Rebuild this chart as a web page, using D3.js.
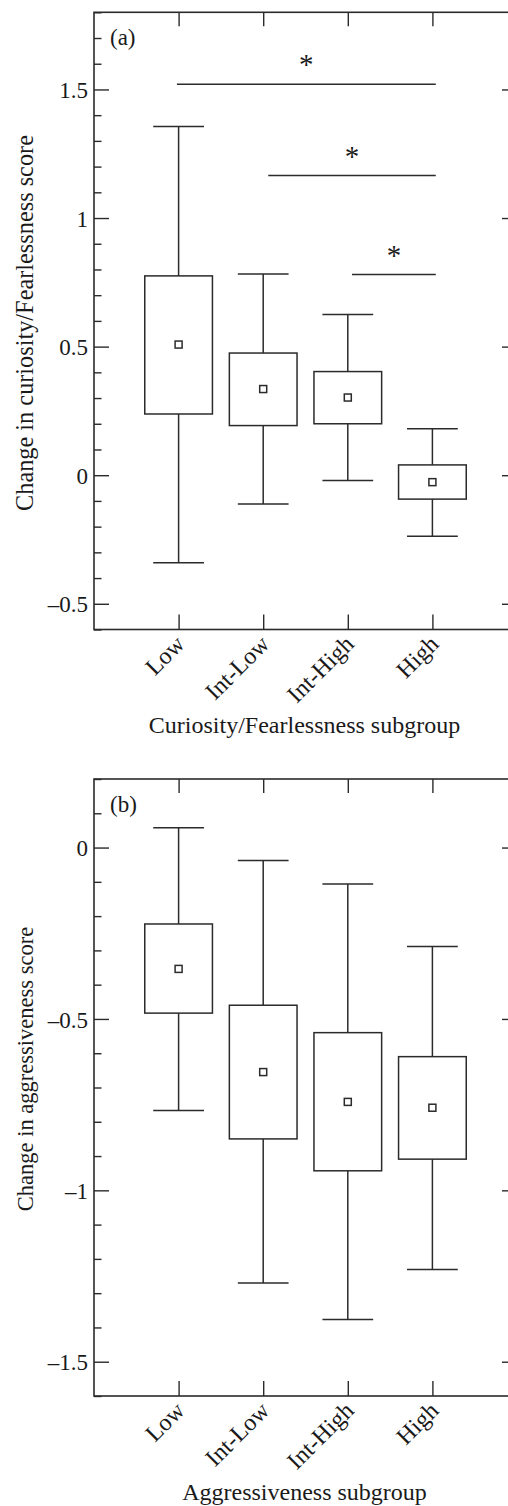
<!DOCTYPE html>
<html>
<head>
<meta charset="utf-8">
<script src="https://cdn.jsdelivr.net/npm/d3@7"></script>
<style>
  body { margin: 0; background: #fff; }
  svg text { font-family: "Liberation Serif", "Times New Roman", serif; fill: #1a1a1a; }
</style>
</head>
<body>
<div id="chart"></div>
<script>
// categories
const groups = ["Low", "Int-Low", "Int-High", "High"];

// panel (a): curiosity/fearlessness
const curWhiskerHi = [1.356, 0.782, 0.625, 0.181];
const curQ3 = [0.775, 0.475, 0.403, 0.040];
const curMean = [0.508, 0.335, 0.302, -0.027];
const curQ1 = [0.238, 0.193, 0.200, -0.093];
const curWhiskerLo = [-0.340, -0.112, -0.021, -0.237];

// significance bars in panel (a), x in category units (Low = 1)
const sigFrom = [0.98, 2.06, 3.05];
const sigTo = [4.04, 4.04, 4.04];
const sigY = [1.52, 1.165, 0.78];

// panel (b): aggressiveness
const aggWhiskerHi = [0.058, -0.038, -0.106, -0.289];
const aggQ3 = [-0.223, -0.460, -0.540, -0.610];
const aggMean = [-0.354, -0.655, -0.742, -0.759];
const aggQ1 = [-0.483, -0.850, -0.943, -0.909];
const aggWhiskerLo = [-0.767, -1.270, -1.377, -1.231];

const curTicks = [-0.5, 0, 0.5, 1, 1.5];
const aggTicks = [-1.5, -1, -0.5, 0];

const W = 508, H = 1506;
const svg = d3.select("#chart").append("svg")
    .attr("width", W)
    .attr("height", H);

const ink = "#2b2b2b";
const fmt = d => d === 0 ? "0" : (d < 0 ? "\u2013" + Math.abs(d) : String(d));

function drawPanel(opt) {
    let g = svg.append("g");
    let left = 94, right = 517;

    let x = d3.scaleLinear().domain([0, 5]).range([left, right]);
    let y = d3.scaleLinear().domain(opt.domain).range([opt.bottom, opt.top]);

    let minor = d3.range(Math.round(opt.domain[0] * 10), Math.round(opt.domain[1] * 10) + 1)
        .map(d => d / 10)
        .filter(d => !opt.ticks.some(t => Math.abs(t - d) < 1e-6));

    // frame
    g.append("rect")
        .attr("x", left).attr("y", opt.top)
        .attr("width", right - left).attr("height", opt.bottom - opt.top)
        .attr("fill", "none").attr("stroke", ink).attr("stroke-width", 1.6);

    // y axes, ticks pointing inward
    let yMajor = g.append("g").attr("transform", "translate(" + left + ",0)")
        .call(d3.axisLeft(y).tickValues(opt.ticks).tickSize(-15).tickPadding(6).tickFormat(fmt));
    g.append("g").attr("transform", "translate(" + left + ",0)")
        .call(d3.axisLeft(y).tickValues(minor).tickSize(-7.5).tickFormat(""));
    g.append("g").attr("transform", "translate(" + right + ",0)")
        .call(d3.axisRight(y).tickValues(opt.ticks).tickSize(-15).tickFormat(""));
    g.append("g").attr("transform", "translate(" + right + ",0)")
        .call(d3.axisRight(y).tickValues(minor).tickSize(-7.5).tickFormat(""));

    // x axes
    let xBottom = g.append("g").attr("transform", "translate(0," + opt.bottom + ")")
        .call(d3.axisBottom(x).tickValues([1, 2, 3, 4]).tickSize(-15).tickFormat(i => groups[i - 1]));
    g.append("g").attr("transform", "translate(0," + opt.top + ")")
        .call(d3.axisTop(x).tickValues([1, 2, 3, 4]).tickSize(-14).tickFormat(""));

    g.selectAll(".domain").remove();
    g.selectAll(".tick line").attr("stroke", ink).attr("stroke-width", 1.4);

    yMajor.selectAll("text")
        .attr("font-size", 23)
        .attr("dy", "0.35em");

    xBottom.selectAll("text")
        .attr("font-size", 24)
        .attr("text-anchor", "end")
        .attr("dy", 0)
        .attr("y", 0)
        .attr("transform", "translate(7,16) rotate(-45)");

    // boxes
    let bw = 0.8, cw = 0.6;
    let idx = d3.range(groups.length);
    let boxes = g.append("g").selectAll("g").data(idx).join("g");

    boxes.append("line")
        .attr("x1", i => x(i + 1)).attr("x2", i => x(i + 1))
        .attr("y1", i => y(opt.hi[i])).attr("y2", i => y(opt.lo[i]));
    boxes.append("line")
        .attr("x1", i => x(i + 1 - cw / 2)).attr("x2", i => x(i + 1 + cw / 2))
        .attr("y1", i => y(opt.hi[i])).attr("y2", i => y(opt.hi[i]));
    boxes.append("line")
        .attr("x1", i => x(i + 1 - cw / 2)).attr("x2", i => x(i + 1 + cw / 2))
        .attr("y1", i => y(opt.lo[i])).attr("y2", i => y(opt.lo[i]));
    boxes.append("rect")
        .attr("x", i => x(i + 1 - bw / 2))
        .attr("width", i => x(i + 1 + bw / 2) - x(i + 1 - bw / 2))
        .attr("y", i => y(opt.q3[i]))
        .attr("height", i => y(opt.q1[i]) - y(opt.q3[i]))
        .attr("fill", "#fff");
    boxes.append("rect")
        .attr("x", i => x(i + 1) - 3.5)
        .attr("y", i => y(opt.mean[i]) - 3.5)
        .attr("width", 7).attr("height", 7)
        .attr("fill", "#fff");
    boxes.selectAll("line, rect").attr("stroke", ink).attr("stroke-width", 1.5);

    // panel letter
    g.append("text")
        .attr("x", 110).attr("y", opt.top + 33)
        .attr("font-size", 23)
        .text(opt.letter);

    // axis titles
    g.append("text")
        .attr("x", (left + right) / 2 - 1)
        .attr("y", opt.bottom + 103.5)
        .attr("text-anchor", "middle")
        .attr("font-size", 24)
        .text(opt.xTitle);

    g.append("text")
        .attr("transform", "translate(33," + opt.yTitleMid + ") rotate(-90)")
        .attr("text-anchor", "middle")
        .attr("font-size", opt.yTitleSize)
        .text(opt.yTitle);

    return {g: g, x: x, y: y};
}

let pa = drawPanel({
    top: 12.3, bottom: 629.5, domain: [-0.6, 1.8], ticks: curTicks,
    hi: curWhiskerHi, q3: curQ3, mean: curMean, q1: curQ1, lo: curWhiskerLo,
    letter: "(a)", xTitle: "Curiosity/Fearlessness subgroup",
    yTitle: "Change in curiosity/Fearlessness score", yTitleMid: 323, yTitleSize: 24.3
});

let pb = drawPanel({
    top: 779, bottom: 1396, domain: [-1.6, 0.2], ticks: aggTicks,
    hi: aggWhiskerHi, q3: aggQ3, mean: aggMean, q1: aggQ1, lo: aggWhiskerLo,
    letter: "(b)", xTitle: "Aggressiveness subgroup",
    yTitle: "Change in aggressiveness score", yTitleMid: 1069, yTitleSize: 22.5
});

// significance bars with asterisks
let sig = pa.g.append("g").selectAll("g").data(d3.range(sigY.length)).join("g");
sig.append("line")
    .attr("x1", i => pa.x(sigFrom[i])).attr("x2", i => pa.x(sigTo[i]))
    .attr("y1", i => pa.y(sigY[i])).attr("y2", i => pa.y(sigY[i]))
    .attr("stroke", ink).attr("stroke-width", 1.5);
sig.append("text")
    .attr("x", i => (pa.x(sigFrom[i]) + pa.x(sigTo[i])) / 2)
    .attr("y", i => pa.y(sigY[i]) - 10)
    .attr("text-anchor", "middle")
    .attr("font-size", 29)
    .text("*");
</script>
</body>
</html>
